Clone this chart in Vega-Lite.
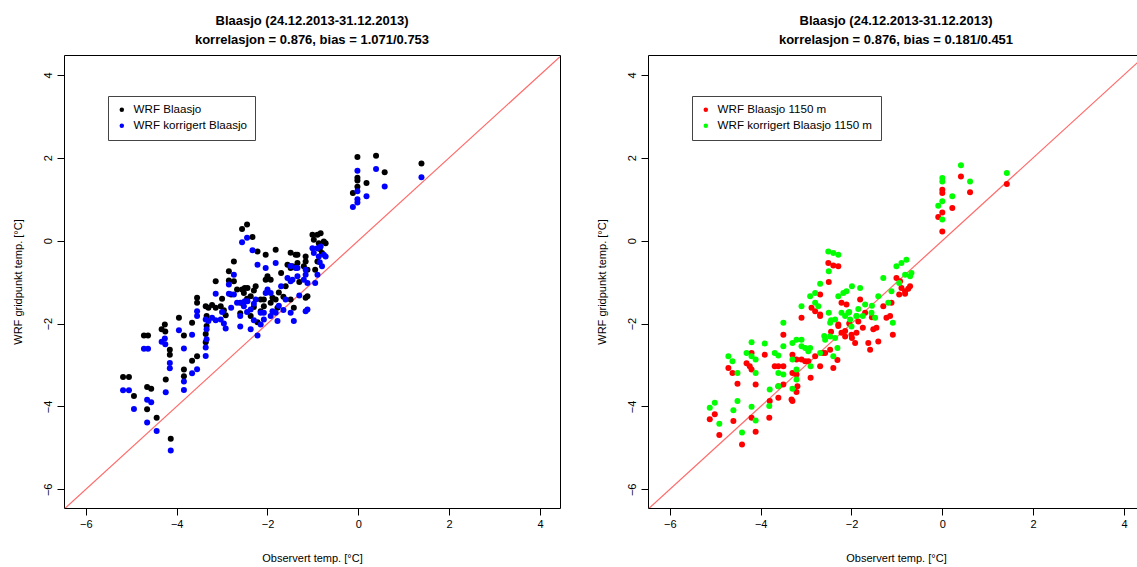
{
"$schema": "https://vega.github.io/schema/vega-lite/v6.json",
"background": "white",
"padding": {"left": 11, "top": 14, "right": 0, "bottom": 0},
"spacing": 34,
"config": {
  "font": "Liberation Sans",
  "view": {"stroke": "#000000", "strokeWidth": 1},
  "axis": {"grid": false, "domain": false, "tickColor": "#000000", "tickSize": 7, "labelFont": "Liberation Sans", "labelFontSize": 11, "labelColor": "#000000", "titleFont": "Liberation Sans", "titleFontSize": 11, "titleFontWeight": "normal", "titleColor": "#000000"},
  "axisX": {"labelPadding": 3, "titlePadding": 23, "labelFlush": false},
  "axisY": {"labelAngle": -90, "labelAlign": "center", "labelBaseline": "bottom", "labelPadding": 4, "titlePadding": 19},
  "legend": {"orient": "none", "legendX": 44, "legendY": 41, "strokeColor": "#444444", "fillColor": "white", "padding": 8, "symbolType": "circle", "symbolSize": 20, "symbolStrokeWidth": 0, "labelFont": "Liberation Sans", "labelFontSize": 11.6, "labelColor": "#000000", "rowPadding": 3, "labelOffset": 6, "cornerRadius": 0},
  "title": {"font": "Liberation Sans", "fontSize": 13, "fontWeight": "bold", "color": "#000000", "lineHeight": 19, "offset": 8, "anchor": "middle"}
},
"datasets": {
  "diag": [{"a": -6.48, "b": 4.44}],
  "left": [
{"series":"WRF Blaasjo","obs":-5.18,"wrf":-3.29},{"series":"WRF Blaasjo","obs":-5.05,"wrf":-3.29},{"series":"WRF Blaasjo","obs":-4.94,"wrf":-3.75},{"series":"WRF Blaasjo","obs":-4.72,"wrf":-2.29},{"series":"WRF Blaasjo","obs":-4.63,"wrf":-2.29},{"series":"WRF Blaasjo","obs":-4.65,"wrf":-3.53},{"series":"WRF Blaasjo","obs":-4.56,"wrf":-3.57},{"series":"WRF Blaasjo","obs":-4.65,"wrf":-4.07},{"series":"WRF Blaasjo","obs":-4.44,"wrf":-4.27},{"series":"WRF Blaasjo","obs":-4.33,"wrf":-2.14},{"series":"WRF Blaasjo","obs":-4.26,"wrf":-2.02},{"series":"WRF Blaasjo","obs":-4.25,"wrf":-2.19},{"series":"WRF Blaasjo","obs":-4.24,"wrf":-3.35},{"series":"WRF Blaasjo","obs":-4.15,"wrf":-2.63},{"series":"WRF Blaasjo","obs":-4.15,"wrf":-2.75},{"series":"WRF Blaasjo","obs":-4.13,"wrf":-4.78},{"series":"WRF Blaasjo","obs":-3.95,"wrf":-1.86},{"series":"WRF Blaasjo","obs":-3.84,"wrf":-2.29},{"series":"WRF Blaasjo","obs":-3.84,"wrf":-3.11},{"series":"WRF Blaasjo","obs":-3.84,"wrf":-3.27},{"series":"WRF Blaasjo","obs":-3.66,"wrf":-2.90},{"series":"WRF Blaasjo","obs":-3.55,"wrf":-2.79},{"series":"WRF Blaasjo","obs":-3.66,"wrf":-1.98},{"series":"WRF Blaasjo","obs":-3.55,"wrf":-1.38},{"series":"WRF Blaasjo","obs":-3.55,"wrf":-1.50},{"series":"WRF Blaasjo","obs":-3.36,"wrf":-1.58},{"series":"WRF Blaasjo","obs":-3.30,"wrf":-1.62},{"series":"WRF Blaasjo","obs":-3.22,"wrf":-1.55},{"series":"WRF Blaasjo","obs":-3.34,"wrf":-1.82},{"series":"WRF Blaasjo","obs":-3.34,"wrf":-2.06},{"series":"WRF Blaasjo","obs":-3.36,"wrf":-2.25},{"series":"WRF Blaasjo","obs":-3.36,"wrf":-2.45},{"series":"WRF Blaasjo","obs":-3.14,"wrf":-0.98},{"series":"WRF Blaasjo","obs":-3.14,"wrf":-1.62},{"series":"WRF Blaasjo","obs":-3.03,"wrf":-1.58},{"series":"WRF Blaasjo","obs":-2.96,"wrf":-1.68},{"series":"WRF Blaasjo","obs":-2.92,"wrf":-1.80},{"series":"WRF Blaasjo","obs":-2.85,"wrf":-0.74},{"series":"WRF Blaasjo","obs":-2.85,"wrf":-0.96},{"series":"WRF Blaasjo","obs":-2.74,"wrf":-0.50},{"series":"WRF Blaasjo","obs":-2.74,"wrf":-0.98},{"series":"WRF Blaasjo","obs":-2.67,"wrf":-1.18},{"series":"WRF Blaasjo","obs":-2.56,"wrf":0.28},{"series":"WRF Blaasjo","obs":-2.45,"wrf":0.39},{"series":"WRF Blaasjo","obs":-2.33,"wrf":0.09},{"series":"WRF Blaasjo","obs":-2.56,"wrf":-1.18},{"series":"WRF Blaasjo","obs":-2.50,"wrf":-1.14},{"series":"WRF Blaasjo","obs":-2.44,"wrf":-1.14},{"series":"WRF Blaasjo","obs":-2.22,"wrf":-0.26},{"series":"WRF Blaasjo","obs":-2.04,"wrf":-0.34},{"series":"WRF Blaasjo","obs":-1.82,"wrf":-0.22},{"series":"WRF Blaasjo","obs":-2.37,"wrf":-1.82},{"series":"WRF Blaasjo","obs":-2.22,"wrf":-1.97},{"series":"WRF Blaasjo","obs":-2.08,"wrf":-1.42},{"series":"WRF Blaasjo","obs":-2.04,"wrf":-0.94},{"series":"WRF Blaasjo","obs":-1.89,"wrf":-1.38},{"series":"WRF Blaasjo","obs":-1.82,"wrf":-1.42},{"series":"WRF Blaasjo","obs":-1.78,"wrf":-1.62},{"series":"WRF Blaasjo","obs":-1.56,"wrf":-0.58},{"series":"WRF Blaasjo","obs":-1.49,"wrf":-0.66},{"series":"WRF Blaasjo","obs":-1.34,"wrf":-0.34},{"series":"WRF Blaasjo","obs":-1.16,"wrf":-0.38},{"series":"WRF Blaasjo","obs":-1.16,"wrf":-0.50},{"series":"WRF Blaasjo","obs":-1.12,"wrf":-0.70},{"series":"WRF Blaasjo","obs":-1.01,"wrf":0.14},{"series":"WRF Blaasjo","obs":-0.90,"wrf":0.14},{"series":"WRF Blaasjo","obs":-0.83,"wrf":0.18},{"series":"WRF Blaasjo","obs":-0.76,"wrf":-0.02},{"series":"WRF Blaasjo","obs":-0.72,"wrf":-0.06},{"series":"WRF Blaasjo","obs":-0.98,"wrf":0.02},{"series":"WRF Blaasjo","obs":-0.87,"wrf":-0.06},{"series":"WRF Blaasjo","obs":-1.16,"wrf":-1.38},{"series":"WRF Blaasjo","obs":-1.42,"wrf":-1.62},{"series":"WRF Blaasjo","obs":-2.52,"wrf":-1.26},{"series":"WRF Blaasjo","obs":-2.37,"wrf":-1.34},{"series":"WRF Blaasjo","obs":-2.26,"wrf":-1.10},{"series":"WRF Blaasjo","obs":-2.15,"wrf":-1.42},{"series":"WRF Blaasjo","obs":-2.08,"wrf":-1.58},{"series":"WRF Blaasjo","obs":-1.93,"wrf":-1.50},{"series":"WRF Blaasjo","obs":-1.70,"wrf":-0.78},{"series":"WRF Blaasjo","obs":-1.49,"wrf":-1.42},{"series":"WRF Blaasjo","obs":-1.45,"wrf":-0.62},{"series":"WRF Blaasjo","obs":-1.34,"wrf":-0.54},{"series":"WRF Blaasjo","obs":-1.20,"wrf":-0.62},{"series":"WRF Blaasjo","obs":-1.12,"wrf":-1.34},{"series":"WRF Blaasjo","obs":-2.00,"wrf":-0.86},{"series":"WRF Blaasjo","obs":-1.93,"wrf":-0.94},{"series":"WRF Blaasjo","obs":-1.49,"wrf":-0.29},{"series":"WRF Blaasjo","obs":-1.38,"wrf":-0.34},{"series":"WRF Blaasjo","obs":-2.30,"wrf":-1.60},{"series":"WRF Blaasjo","obs":-2.15,"wrf":-1.70},{"series":"WRF Blaasjo","obs":-2.60,"wrf":-1.50},{"series":"WRF Blaasjo","obs":-2.80,"wrf":-1.30},{"series":"WRF Blaasjo","obs":-2.60,"wrf":-1.75},{"series":"WRF Blaasjo","obs":-3.00,"wrf":-1.40},{"series":"WRF Blaasjo","obs":-1.60,"wrf":-1.10},{"series":"WRF Blaasjo","obs":-1.30,"wrf":-1.00},{"series":"WRF Blaasjo","obs":-0.80,"wrf":-0.30},{"series":"WRF Blaasjo","obs":-0.90,"wrf":-0.50},{"series":"WRF Blaasjo","obs":-0.95,"wrf":-0.70},{"series":"WRF Blaasjo","obs":-2.45,"wrf":-1.40},{"series":"WRF Blaasjo","obs":-2.30,"wrf":-1.20},{"series":"WRF Blaasjo","obs":-1.75,"wrf":-1.25},{"series":"WRF Blaasjo","obs":-1.65,"wrf":-1.35},{"series":"WRF Blaasjo","obs":-0.85,"wrf":-0.20},{"series":"WRF Blaasjo","obs":-0.02,"wrf":2.02},{"series":"WRF Blaasjo","obs":0.39,"wrf":2.05},{"series":"WRF Blaasjo","obs":0.58,"wrf":1.65},{"series":"WRF Blaasjo","obs":0.18,"wrf":1.39},{"series":"WRF Blaasjo","obs":-0.02,"wrf":1.52},{"series":"WRF Blaasjo","obs":-0.02,"wrf":1.45},{"series":"WRF Blaasjo","obs":-0.12,"wrf":1.15},{"series":"WRF Blaasjo","obs":1.39,"wrf":1.86},{"series":"WRF Blaasjo","obs":-0.02,"wrf":1.30},
{"series":"WRF korrigert Blaasjo","obs":-5.18,"wrf":-3.61},{"series":"WRF korrigert Blaasjo","obs":-5.05,"wrf":-3.61},{"series":"WRF korrigert Blaasjo","obs":-4.94,"wrf":-4.06},{"series":"WRF korrigert Blaasjo","obs":-4.72,"wrf":-2.61},{"series":"WRF korrigert Blaasjo","obs":-4.63,"wrf":-2.61},{"series":"WRF korrigert Blaasjo","obs":-4.65,"wrf":-3.84},{"series":"WRF korrigert Blaasjo","obs":-4.56,"wrf":-3.90},{"series":"WRF korrigert Blaasjo","obs":-4.65,"wrf":-4.39},{"series":"WRF korrigert Blaasjo","obs":-4.44,"wrf":-4.59},{"series":"WRF korrigert Blaasjo","obs":-4.33,"wrf":-2.44},{"series":"WRF korrigert Blaasjo","obs":-4.26,"wrf":-2.36},{"series":"WRF korrigert Blaasjo","obs":-4.25,"wrf":-2.50},{"series":"WRF korrigert Blaasjo","obs":-4.24,"wrf":-3.66},{"series":"WRF korrigert Blaasjo","obs":-4.15,"wrf":-2.95},{"series":"WRF korrigert Blaasjo","obs":-4.15,"wrf":-3.08},{"series":"WRF korrigert Blaasjo","obs":-4.13,"wrf":-5.06},{"series":"WRF korrigert Blaasjo","obs":-3.95,"wrf":-2.16},{"series":"WRF korrigert Blaasjo","obs":-3.84,"wrf":-2.60},{"series":"WRF korrigert Blaasjo","obs":-3.84,"wrf":-3.40},{"series":"WRF korrigert Blaasjo","obs":-3.84,"wrf":-3.60},{"series":"WRF korrigert Blaasjo","obs":-3.66,"wrf":-3.20},{"series":"WRF korrigert Blaasjo","obs":-3.55,"wrf":-3.10},{"series":"WRF korrigert Blaasjo","obs":-3.66,"wrf":-2.27},{"series":"WRF korrigert Blaasjo","obs":-3.55,"wrf":-1.70},{"series":"WRF korrigert Blaasjo","obs":-3.55,"wrf":-1.82},{"series":"WRF korrigert Blaasjo","obs":-3.36,"wrf":-1.90},{"series":"WRF korrigert Blaasjo","obs":-3.30,"wrf":-1.94},{"series":"WRF korrigert Blaasjo","obs":-3.22,"wrf":-1.86},{"series":"WRF korrigert Blaasjo","obs":-3.34,"wrf":-2.14},{"series":"WRF korrigert Blaasjo","obs":-3.34,"wrf":-2.38},{"series":"WRF korrigert Blaasjo","obs":-3.36,"wrf":-2.58},{"series":"WRF korrigert Blaasjo","obs":-3.36,"wrf":-2.78},{"series":"WRF korrigert Blaasjo","obs":-3.14,"wrf":-1.28},{"series":"WRF korrigert Blaasjo","obs":-3.14,"wrf":-1.92},{"series":"WRF korrigert Blaasjo","obs":-3.03,"wrf":-1.90},{"series":"WRF korrigert Blaasjo","obs":-2.96,"wrf":-2.00},{"series":"WRF korrigert Blaasjo","obs":-2.92,"wrf":-2.12},{"series":"WRF korrigert Blaasjo","obs":-2.85,"wrf":-1.06},{"series":"WRF korrigert Blaasjo","obs":-2.85,"wrf":-1.28},{"series":"WRF korrigert Blaasjo","obs":-2.74,"wrf":-0.82},{"series":"WRF korrigert Blaasjo","obs":-2.74,"wrf":-1.30},{"series":"WRF korrigert Blaasjo","obs":-2.67,"wrf":-1.50},{"series":"WRF korrigert Blaasjo","obs":-2.56,"wrf":-0.04},{"series":"WRF korrigert Blaasjo","obs":-2.45,"wrf":0.07},{"series":"WRF korrigert Blaasjo","obs":-2.33,"wrf":-0.23},{"series":"WRF korrigert Blaasjo","obs":-2.56,"wrf":-1.50},{"series":"WRF korrigert Blaasjo","obs":-2.50,"wrf":-1.46},{"series":"WRF korrigert Blaasjo","obs":-2.44,"wrf":-1.46},{"series":"WRF korrigert Blaasjo","obs":-2.22,"wrf":-0.58},{"series":"WRF korrigert Blaasjo","obs":-2.04,"wrf":-0.66},{"series":"WRF korrigert Blaasjo","obs":-1.82,"wrf":-0.54},{"series":"WRF korrigert Blaasjo","obs":-2.37,"wrf":-2.14},{"series":"WRF korrigert Blaasjo","obs":-2.22,"wrf":-2.29},{"series":"WRF korrigert Blaasjo","obs":-2.08,"wrf":-1.74},{"series":"WRF korrigert Blaasjo","obs":-2.04,"wrf":-1.26},{"series":"WRF korrigert Blaasjo","obs":-1.89,"wrf":-1.70},{"series":"WRF korrigert Blaasjo","obs":-1.82,"wrf":-1.74},{"series":"WRF korrigert Blaasjo","obs":-1.78,"wrf":-1.94},{"series":"WRF korrigert Blaasjo","obs":-1.56,"wrf":-0.90},{"series":"WRF korrigert Blaasjo","obs":-1.49,"wrf":-0.98},{"series":"WRF korrigert Blaasjo","obs":-1.34,"wrf":-0.66},{"series":"WRF korrigert Blaasjo","obs":-1.16,"wrf":-0.70},{"series":"WRF korrigert Blaasjo","obs":-1.16,"wrf":-0.82},{"series":"WRF korrigert Blaasjo","obs":-1.12,"wrf":-1.02},{"series":"WRF korrigert Blaasjo","obs":-1.01,"wrf":-0.18},{"series":"WRF korrigert Blaasjo","obs":-0.90,"wrf":-0.18},{"series":"WRF korrigert Blaasjo","obs":-0.83,"wrf":-0.14},{"series":"WRF korrigert Blaasjo","obs":-0.76,"wrf":-0.34},{"series":"WRF korrigert Blaasjo","obs":-0.72,"wrf":-0.38},{"series":"WRF korrigert Blaasjo","obs":-0.98,"wrf":-0.30},{"series":"WRF korrigert Blaasjo","obs":-0.87,"wrf":-0.38},{"series":"WRF korrigert Blaasjo","obs":-1.16,"wrf":-1.70},{"series":"WRF korrigert Blaasjo","obs":-1.42,"wrf":-1.94},{"series":"WRF korrigert Blaasjo","obs":-2.52,"wrf":-1.58},{"series":"WRF korrigert Blaasjo","obs":-2.37,"wrf":-1.66},{"series":"WRF korrigert Blaasjo","obs":-2.26,"wrf":-1.42},{"series":"WRF korrigert Blaasjo","obs":-2.15,"wrf":-1.74},{"series":"WRF korrigert Blaasjo","obs":-2.08,"wrf":-1.90},{"series":"WRF korrigert Blaasjo","obs":-1.93,"wrf":-1.82},{"series":"WRF korrigert Blaasjo","obs":-1.70,"wrf":-1.10},{"series":"WRF korrigert Blaasjo","obs":-1.49,"wrf":-1.74},{"series":"WRF korrigert Blaasjo","obs":-1.45,"wrf":-0.94},{"series":"WRF korrigert Blaasjo","obs":-1.34,"wrf":-0.86},{"series":"WRF korrigert Blaasjo","obs":-1.20,"wrf":-0.94},{"series":"WRF korrigert Blaasjo","obs":-1.12,"wrf":-1.66},{"series":"WRF korrigert Blaasjo","obs":-2.00,"wrf":-1.18},{"series":"WRF korrigert Blaasjo","obs":-1.93,"wrf":-1.26},{"series":"WRF korrigert Blaasjo","obs":-1.49,"wrf":-0.61},{"series":"WRF korrigert Blaasjo","obs":-1.38,"wrf":-0.66},{"series":"WRF korrigert Blaasjo","obs":-2.30,"wrf":-1.92},{"series":"WRF korrigert Blaasjo","obs":-2.15,"wrf":-2.02},{"series":"WRF korrigert Blaasjo","obs":-2.60,"wrf":-1.82},{"series":"WRF korrigert Blaasjo","obs":-2.80,"wrf":-1.62},{"series":"WRF korrigert Blaasjo","obs":-2.60,"wrf":-2.07},{"series":"WRF korrigert Blaasjo","obs":-3.00,"wrf":-1.72},{"series":"WRF korrigert Blaasjo","obs":-1.60,"wrf":-1.42},{"series":"WRF korrigert Blaasjo","obs":-1.30,"wrf":-1.32},{"series":"WRF korrigert Blaasjo","obs":-0.80,"wrf":-0.62},{"series":"WRF korrigert Blaasjo","obs":-0.90,"wrf":-0.82},{"series":"WRF korrigert Blaasjo","obs":-0.95,"wrf":-1.02},{"series":"WRF korrigert Blaasjo","obs":-2.45,"wrf":-1.72},{"series":"WRF korrigert Blaasjo","obs":-2.30,"wrf":-1.52},{"series":"WRF korrigert Blaasjo","obs":-1.75,"wrf":-1.57},{"series":"WRF korrigert Blaasjo","obs":-1.65,"wrf":-1.67},{"series":"WRF korrigert Blaasjo","obs":-0.85,"wrf":-0.52},{"series":"WRF korrigert Blaasjo","obs":-0.02,"wrf":1.69},{"series":"WRF korrigert Blaasjo","obs":0.39,"wrf":1.73},{"series":"WRF korrigert Blaasjo","obs":0.58,"wrf":1.31},{"series":"WRF korrigert Blaasjo","obs":0.18,"wrf":1.07},{"series":"WRF korrigert Blaasjo","obs":-0.02,"wrf":1.19},{"series":"WRF korrigert Blaasjo","obs":-0.02,"wrf":0.92},{"series":"WRF korrigert Blaasjo","obs":-0.12,"wrf":0.81},{"series":"WRF korrigert Blaasjo","obs":1.39,"wrf":1.53},{"series":"WRF korrigert Blaasjo","obs":-0.02,"wrf":1.00}
  ],
  "right": [
{"series":"WRF Blaasjo 1150 m","obs":-5.12,"wrf":-4.31},{"series":"WRF Blaasjo 1150 m","obs":-5.01,"wrf":-4.19},{"series":"WRF Blaasjo 1150 m","obs":-4.91,"wrf":-4.69},{"series":"WRF Blaasjo 1150 m","obs":-4.71,"wrf":-3.07},{"series":"WRF Blaasjo 1150 m","obs":-4.62,"wrf":-3.19},{"series":"WRF Blaasjo 1150 m","obs":-4.60,"wrf":-4.35},{"series":"WRF Blaasjo 1150 m","obs":-4.51,"wrf":-3.45},{"series":"WRF Blaasjo 1150 m","obs":-4.41,"wrf":-4.92},{"series":"WRF Blaasjo 1150 m","obs":-4.31,"wrf":-2.96},{"series":"WRF Blaasjo 1150 m","obs":-4.24,"wrf":-3.03},{"series":"WRF Blaasjo 1150 m","obs":-4.20,"wrf":-3.11},{"series":"WRF Blaasjo 1150 m","obs":-4.20,"wrf":-4.27},{"series":"WRF Blaasjo 1150 m","obs":-4.11,"wrf":-4.61},{"series":"WRF Blaasjo 1150 m","obs":-4.11,"wrf":-3.47},{"series":"WRF Blaasjo 1150 m","obs":-4.20,"wrf":-2.71},{"series":"WRF Blaasjo 1150 m","obs":-3.91,"wrf":-2.75},{"series":"WRF Blaasjo 1150 m","obs":-3.81,"wrf":-4.27},{"series":"WRF Blaasjo 1150 m","obs":-3.80,"wrf":-3.87},{"series":"WRF Blaasjo 1150 m","obs":-3.69,"wrf":-3.03},{"series":"WRF Blaasjo 1150 m","obs":-3.61,"wrf":-3.03},{"series":"WRF Blaasjo 1150 m","obs":-3.50,"wrf":-3.03},{"series":"WRF Blaasjo 1150 m","obs":-3.50,"wrf":-2.27},{"series":"WRF Blaasjo 1150 m","obs":-3.61,"wrf":-3.51},{"series":"WRF Blaasjo 1150 m","obs":-3.50,"wrf":-3.47},{"series":"WRF Blaasjo 1150 m","obs":-3.61,"wrf":-3.79},{"series":"WRF Blaasjo 1150 m","obs":-3.30,"wrf":-2.75},{"series":"WRF Blaasjo 1150 m","obs":-3.21,"wrf":-2.87},{"series":"WRF Blaasjo 1150 m","obs":-3.30,"wrf":-3.19},{"series":"WRF Blaasjo 1150 m","obs":-3.21,"wrf":-3.23},{"series":"WRF Blaasjo 1150 m","obs":-3.19,"wrf":-3.51},{"series":"WRF Blaasjo 1150 m","obs":-3.30,"wrf":-3.87},{"series":"WRF Blaasjo 1150 m","obs":-3.21,"wrf":-3.65},{"series":"WRF Blaasjo 1150 m","obs":-3.10,"wrf":-1.86},{"series":"WRF Blaasjo 1150 m","obs":-3.10,"wrf":-2.87},{"series":"WRF Blaasjo 1150 m","obs":-3.02,"wrf":-2.91},{"series":"WRF Blaasjo 1150 m","obs":-2.95,"wrf":-2.91},{"series":"WRF Blaasjo 1150 m","obs":-2.90,"wrf":-3.31},{"series":"WRF Blaasjo 1150 m","obs":-2.80,"wrf":-2.79},{"series":"WRF Blaasjo 1150 m","obs":-2.69,"wrf":-1.30},{"series":"WRF Blaasjo 1150 m","obs":-2.88,"wrf":-1.62},{"series":"WRF Blaasjo 1150 m","obs":-2.80,"wrf":-1.70},{"series":"WRF Blaasjo 1150 m","obs":-2.69,"wrf":-1.82},{"series":"WRF Blaasjo 1150 m","obs":-2.69,"wrf":-3.03},{"series":"WRF Blaasjo 1150 m","obs":-2.51,"wrf":-0.54},{"series":"WRF Blaasjo 1150 m","obs":-2.40,"wrf":-0.60},{"series":"WRF Blaasjo 1150 m","obs":-2.29,"wrf":-0.62},{"series":"WRF Blaasjo 1150 m","obs":-2.50,"wrf":-1.00},{"series":"WRF Blaasjo 1150 m","obs":-2.58,"wrf":-2.71},{"series":"WRF Blaasjo 1150 m","obs":-2.47,"wrf":-2.63},{"series":"WRF Blaasjo 1150 m","obs":-2.40,"wrf":-3.07},{"series":"WRF Blaasjo 1150 m","obs":-2.31,"wrf":-2.88},{"series":"WRF Blaasjo 1150 m","obs":-2.29,"wrf":-2.06},{"series":"WRF Blaasjo 1150 m","obs":-2.22,"wrf":-2.22},{"series":"WRF Blaasjo 1150 m","obs":-2.14,"wrf":-2.31},{"series":"WRF Blaasjo 1150 m","obs":-2.22,"wrf":-1.50},{"series":"WRF Blaasjo 1150 m","obs":-2.11,"wrf":-1.54},{"series":"WRF Blaasjo 1150 m","obs":-1.99,"wrf":-2.35},{"series":"WRF Blaasjo 1150 m","obs":-1.92,"wrf":-2.47},{"series":"WRF Blaasjo 1150 m","obs":-1.89,"wrf":-2.22},{"series":"WRF Blaasjo 1150 m","obs":-1.81,"wrf":-1.42},{"series":"WRF Blaasjo 1150 m","obs":-1.70,"wrf":-1.74},{"series":"WRF Blaasjo 1150 m","obs":-1.63,"wrf":-2.47},{"series":"WRF Blaasjo 1150 m","obs":-1.59,"wrf":-2.63},{"series":"WRF Blaasjo 1150 m","obs":-1.52,"wrf":-2.14},{"series":"WRF Blaasjo 1150 m","obs":-1.45,"wrf":-2.10},{"series":"WRF Blaasjo 1150 m","obs":-1.41,"wrf":-2.43},{"series":"WRF Blaasjo 1150 m","obs":-1.30,"wrf":-1.58},{"series":"WRF Blaasjo 1150 m","obs":-1.23,"wrf":-1.86},{"series":"WRF Blaasjo 1150 m","obs":-1.15,"wrf":-1.82},{"series":"WRF Blaasjo 1150 m","obs":-1.09,"wrf":-2.27},{"series":"WRF Blaasjo 1150 m","obs":-1.12,"wrf":-1.50},{"series":"WRF Blaasjo 1150 m","obs":-1.01,"wrf":-0.90},{"series":"WRF Blaasjo 1150 m","obs":-0.93,"wrf":-0.98},{"series":"WRF Blaasjo 1150 m","obs":-0.90,"wrf":-1.14},{"series":"WRF Blaasjo 1150 m","obs":-0.82,"wrf":-1.22},{"series":"WRF Blaasjo 1150 m","obs":-0.71,"wrf":-1.10},{"series":"WRF Blaasjo 1150 m","obs":-0.82,"wrf":-1.28},{"series":"WRF Blaasjo 1150 m","obs":-0.75,"wrf":-1.16},{"series":"WRF Blaasjo 1150 m","obs":-2.00,"wrf":-2.27},{"series":"WRF Blaasjo 1150 m","obs":-2.29,"wrf":-2.02},{"series":"WRF Blaasjo 1150 m","obs":-2.14,"wrf":-2.18},{"series":"WRF Blaasjo 1150 m","obs":-2.63,"wrf":-2.71},{"series":"WRF Blaasjo 1150 m","obs":-3.32,"wrf":-3.83},{"series":"WRF Blaasjo 1150 m","obs":-2.69,"wrf":-1.78},{"series":"WRF Blaasjo 1150 m","obs":-2.05,"wrf":-2.00},{"series":"WRF Blaasjo 1150 m","obs":-1.85,"wrf":-1.95},{"series":"WRF Blaasjo 1150 m","obs":-1.75,"wrf":-2.10},{"series":"WRF Blaasjo 1150 m","obs":-1.55,"wrf":-1.85},{"series":"WRF Blaasjo 1150 m","obs":-2.45,"wrf":-2.20},{"series":"WRF Blaasjo 1150 m","obs":-0.95,"wrf":-1.30},{"series":"WRF Blaasjo 1150 m","obs":0.41,"wrf":1.55},{"series":"WRF Blaasjo 1150 m","obs":0.00,"wrf":1.23},{"series":"WRF Blaasjo 1150 m","obs":0.00,"wrf":1.15},{"series":"WRF Blaasjo 1150 m","obs":0.61,"wrf":1.17},{"series":"WRF Blaasjo 1150 m","obs":0.22,"wrf":0.79},{"series":"WRF Blaasjo 1150 m","obs":-0.09,"wrf":0.57},{"series":"WRF Blaasjo 1150 m","obs":0.00,"wrf":0.68},{"series":"WRF Blaasjo 1150 m","obs":0.00,"wrf":0.22},{"series":"WRF Blaasjo 1150 m","obs":1.42,"wrf":1.37},
{"series":"WRF korrigert Blaasjo 1150 m","obs":-5.12,"wrf":-4.03},{"series":"WRF korrigert Blaasjo 1150 m","obs":-5.01,"wrf":-3.91},{"series":"WRF korrigert Blaasjo 1150 m","obs":-4.91,"wrf":-4.42},{"series":"WRF korrigert Blaasjo 1150 m","obs":-4.71,"wrf":-2.79},{"series":"WRF korrigert Blaasjo 1150 m","obs":-4.62,"wrf":-2.91},{"series":"WRF korrigert Blaasjo 1150 m","obs":-4.60,"wrf":-4.09},{"series":"WRF korrigert Blaasjo 1150 m","obs":-4.51,"wrf":-3.19},{"series":"WRF korrigert Blaasjo 1150 m","obs":-4.51,"wrf":-3.87},{"series":"WRF korrigert Blaasjo 1150 m","obs":-4.41,"wrf":-4.63},{"series":"WRF korrigert Blaasjo 1150 m","obs":-4.31,"wrf":-2.71},{"series":"WRF korrigert Blaasjo 1150 m","obs":-4.20,"wrf":-2.79},{"series":"WRF korrigert Blaasjo 1150 m","obs":-4.11,"wrf":-2.87},{"series":"WRF korrigert Blaasjo 1150 m","obs":-4.20,"wrf":-4.01},{"series":"WRF korrigert Blaasjo 1150 m","obs":-4.20,"wrf":-2.45},{"series":"WRF korrigert Blaasjo 1150 m","obs":-4.11,"wrf":-4.34},{"series":"WRF korrigert Blaasjo 1150 m","obs":-4.11,"wrf":-3.19},{"series":"WRF korrigert Blaasjo 1150 m","obs":-3.91,"wrf":-2.48},{"series":"WRF korrigert Blaasjo 1150 m","obs":-3.81,"wrf":-3.99},{"series":"WRF korrigert Blaasjo 1150 m","obs":-3.80,"wrf":-3.59},{"series":"WRF korrigert Blaasjo 1150 m","obs":-3.69,"wrf":-2.71},{"series":"WRF korrigert Blaasjo 1150 m","obs":-3.61,"wrf":-2.77},{"series":"WRF korrigert Blaasjo 1150 m","obs":-3.50,"wrf":-2.55},{"series":"WRF korrigert Blaasjo 1150 m","obs":-3.50,"wrf":-1.98},{"series":"WRF korrigert Blaasjo 1150 m","obs":-3.61,"wrf":-3.19},{"series":"WRF korrigert Blaasjo 1150 m","obs":-3.50,"wrf":-3.23},{"series":"WRF korrigert Blaasjo 1150 m","obs":-3.61,"wrf":-3.51},{"series":"WRF korrigert Blaasjo 1150 m","obs":-3.30,"wrf":-2.47},{"series":"WRF korrigert Blaasjo 1150 m","obs":-3.21,"wrf":-2.39},{"series":"WRF korrigert Blaasjo 1150 m","obs":-3.10,"wrf":-2.39},{"series":"WRF korrigert Blaasjo 1150 m","obs":-3.30,"wrf":-2.87},{"series":"WRF korrigert Blaasjo 1150 m","obs":-3.21,"wrf":-3.11},{"series":"WRF korrigert Blaasjo 1150 m","obs":-3.30,"wrf":-3.57},{"series":"WRF korrigert Blaasjo 1150 m","obs":-3.21,"wrf":-3.35},{"series":"WRF korrigert Blaasjo 1150 m","obs":-3.10,"wrf":-1.58},{"series":"WRF korrigert Blaasjo 1150 m","obs":-3.10,"wrf":-2.55},{"series":"WRF korrigert Blaasjo 1150 m","obs":-3.02,"wrf":-2.59},{"series":"WRF korrigert Blaasjo 1150 m","obs":-2.91,"wrf":-2.59},{"series":"WRF korrigert Blaasjo 1150 m","obs":-2.95,"wrf":-2.67},{"series":"WRF korrigert Blaasjo 1150 m","obs":-2.90,"wrf":-3.03},{"series":"WRF korrigert Blaasjo 1150 m","obs":-2.80,"wrf":-1.26},{"series":"WRF korrigert Blaasjo 1150 m","obs":-2.91,"wrf":-1.34},{"series":"WRF korrigert Blaasjo 1150 m","obs":-2.69,"wrf":-1.04},{"series":"WRF korrigert Blaasjo 1150 m","obs":-2.80,"wrf":-1.50},{"series":"WRF korrigert Blaasjo 1150 m","obs":-2.73,"wrf":-1.58},{"series":"WRF korrigert Blaasjo 1150 m","obs":-2.69,"wrf":-2.71},{"series":"WRF korrigert Blaasjo 1150 m","obs":-2.51,"wrf":-0.26},{"series":"WRF korrigert Blaasjo 1150 m","obs":-2.40,"wrf":-0.30},{"series":"WRF korrigert Blaasjo 1150 m","obs":-2.29,"wrf":-0.34},{"series":"WRF korrigert Blaasjo 1150 m","obs":-2.50,"wrf":-0.74},{"series":"WRF korrigert Blaasjo 1150 m","obs":-2.58,"wrf":-2.39},{"series":"WRF korrigert Blaasjo 1150 m","obs":-2.47,"wrf":-2.31},{"series":"WRF korrigert Blaasjo 1150 m","obs":-2.40,"wrf":-2.79},{"series":"WRF korrigert Blaasjo 1150 m","obs":-2.31,"wrf":-2.59},{"series":"WRF korrigert Blaasjo 1150 m","obs":-2.29,"wrf":-1.34},{"series":"WRF korrigert Blaasjo 1150 m","obs":-2.18,"wrf":-1.26},{"series":"WRF korrigert Blaasjo 1150 m","obs":-2.11,"wrf":-1.22},{"series":"WRF korrigert Blaasjo 1150 m","obs":-1.99,"wrf":-1.10},{"series":"WRF korrigert Blaasjo 1150 m","obs":-1.81,"wrf":-1.14},{"series":"WRF korrigert Blaasjo 1150 m","obs":-2.07,"wrf":-1.74},{"series":"WRF korrigert Blaasjo 1150 m","obs":-1.89,"wrf":-1.82},{"series":"WRF korrigert Blaasjo 1150 m","obs":-2.50,"wrf":-1.74},{"series":"WRF korrigert Blaasjo 1150 m","obs":-2.47,"wrf":-1.98},{"series":"WRF korrigert Blaasjo 1150 m","obs":-1.70,"wrf":-1.54},{"series":"WRF korrigert Blaasjo 1150 m","obs":-1.56,"wrf":-1.74},{"series":"WRF korrigert Blaasjo 1150 m","obs":-1.48,"wrf":-1.86},{"series":"WRF korrigert Blaasjo 1150 m","obs":-1.41,"wrf":-1.34},{"series":"WRF korrigert Blaasjo 1150 m","obs":-1.30,"wrf":-0.90},{"series":"WRF korrigert Blaasjo 1150 m","obs":-1.19,"wrf":-1.50},{"series":"WRF korrigert Blaasjo 1150 m","obs":-1.12,"wrf":-1.22},{"series":"WRF korrigert Blaasjo 1150 m","obs":-1.09,"wrf":-1.98},{"series":"WRF korrigert Blaasjo 1150 m","obs":-1.01,"wrf":-0.62},{"series":"WRF korrigert Blaasjo 1150 m","obs":-0.90,"wrf":-0.54},{"series":"WRF korrigert Blaasjo 1150 m","obs":-0.79,"wrf":-0.46},{"series":"WRF korrigert Blaasjo 1150 m","obs":-0.82,"wrf":-0.82},{"series":"WRF korrigert Blaasjo 1150 m","obs":-0.71,"wrf":-0.86},{"series":"WRF korrigert Blaasjo 1150 m","obs":-0.68,"wrf":-0.78},{"series":"WRF korrigert Blaasjo 1150 m","obs":-2.36,"wrf":-1.90},{"series":"WRF korrigert Blaasjo 1150 m","obs":-2.22,"wrf":-1.74},{"series":"WRF korrigert Blaasjo 1150 m","obs":-2.14,"wrf":-1.82},{"series":"WRF korrigert Blaasjo 1150 m","obs":-2.03,"wrf":-1.90},{"series":"WRF korrigert Blaasjo 1150 m","obs":-2.00,"wrf":-2.07},{"series":"WRF korrigert Blaasjo 1150 m","obs":-1.89,"wrf":-1.82},{"series":"WRF korrigert Blaasjo 1150 m","obs":-2.60,"wrf":-2.30},{"series":"WRF korrigert Blaasjo 1150 m","obs":-2.36,"wrf":-2.35},{"series":"WRF korrigert Blaasjo 1150 m","obs":-2.05,"wrf":-1.72},{"series":"WRF korrigert Blaasjo 1150 m","obs":-1.85,"wrf":-1.65},{"series":"WRF korrigert Blaasjo 1150 m","obs":-1.75,"wrf":-1.82},{"series":"WRF korrigert Blaasjo 1150 m","obs":-1.55,"wrf":-1.57},{"series":"WRF korrigert Blaasjo 1150 m","obs":-2.45,"wrf":-1.92},{"series":"WRF korrigert Blaasjo 1150 m","obs":-0.95,"wrf":-1.02},{"series":"WRF korrigert Blaasjo 1150 m","obs":0.41,"wrf":1.82},{"series":"WRF korrigert Blaasjo 1150 m","obs":0.00,"wrf":1.51},{"series":"WRF korrigert Blaasjo 1150 m","obs":0.00,"wrf":1.43},{"series":"WRF korrigert Blaasjo 1150 m","obs":0.61,"wrf":1.43},{"series":"WRF korrigert Blaasjo 1150 m","obs":0.22,"wrf":1.07},{"series":"WRF korrigert Blaasjo 1150 m","obs":-0.09,"wrf":0.84},{"series":"WRF korrigert Blaasjo 1150 m","obs":0.00,"wrf":0.95},{"series":"WRF korrigert Blaasjo 1150 m","obs":0.00,"wrf":0.51},{"series":"WRF korrigert Blaasjo 1150 m","obs":1.42,"wrf":1.63}
  ]
},
"resolve": {"scale": {"color": "independent"}, "legend": {"color": "independent"}},
"hconcat": [
  {
    "width": 496, "height": 453,
    "title": {"text": ["Blaasjo (24.12.2013-31.12.2013)", "korrelasjon = 0.876, bias = 1.071/0.753"]},
    "layer": [
      {"mark": {"type": "rule", "color": "#BEBEBE", "strokeWidth": 1}, "encoding": {"x": {"datum": 0, "type": "quantitative"}}},
      {"mark": {"type": "rule", "color": "#BEBEBE", "strokeWidth": 1}, "encoding": {"y": {"datum": 0, "type": "quantitative"}}},
      {"data": {"name": "diag"}, "mark": {"type": "rule", "color": "#FF6A6A", "strokeWidth": 1.2, "clip": true},
       "encoding": {"x": {"field": "a", "type": "quantitative"}, "y": {"field": "a", "type": "quantitative"}, "x2": {"field": "b"}, "y2": {"field": "b"}}},
      {"data": {"name": "left"}, "mark": {"type": "point", "filled": true, "size": 36, "opacity": 1},
       "encoding": {
         "x": {"field": "obs", "type": "quantitative", "scale": {"domain": [-6.48, 4.44], "nice": false, "zero": false}, "axis": {"values": [-6, -4, -2, 0, 2, 4], "title": "Observert temp. [°C]"}},
         "y": {"field": "wrf", "type": "quantitative", "scale": {"domain": [-6.45, 4.48], "nice": false, "zero": false}, "axis": {"values": [-6, -4, -2, 0, 2, 4], "title": "WRF gridpunkt temp. [°C]"}},
         "color": {"field": "series", "type": "nominal", "scale": {"domain": ["WRF Blaasjo", "WRF korrigert Blaasjo"], "range": ["#000000", "#0000FF"]}, "legend": {"title": null}}
       }}
    ]
  },
  {
    "width": 496, "height": 453,
    "title": {"text": ["Blaasjo (24.12.2013-31.12.2013)", "korrelasjon = 0.876, bias = 0.181/0.451"]},
    "layer": [
      {"mark": {"type": "rule", "color": "#BEBEBE", "strokeWidth": 1}, "encoding": {"x": {"datum": 0, "type": "quantitative"}}},
      {"mark": {"type": "rule", "color": "#BEBEBE", "strokeWidth": 1}, "encoding": {"y": {"datum": 0, "type": "quantitative"}}},
      {"data": {"name": "diag"}, "mark": {"type": "rule", "color": "#FF6A6A", "strokeWidth": 1.2, "clip": true},
       "encoding": {"x": {"field": "a", "type": "quantitative"}, "y": {"field": "a", "type": "quantitative"}, "x2": {"field": "b"}, "y2": {"field": "b"}}},
      {"data": {"name": "right"}, "mark": {"type": "point", "filled": true, "size": 36, "opacity": 1},
       "encoding": {
         "x": {"field": "obs", "type": "quantitative", "scale": {"domain": [-6.48, 4.44], "nice": false, "zero": false}, "axis": {"values": [-6, -4, -2, 0, 2, 4], "title": "Observert temp. [°C]"}},
         "y": {"field": "wrf", "type": "quantitative", "scale": {"domain": [-6.45, 4.48], "nice": false, "zero": false}, "axis": {"values": [-6, -4, -2, 0, 2, 4], "title": "WRF gridpunkt temp. [°C]"}},
         "color": {"field": "series", "type": "nominal", "scale": {"domain": ["WRF Blaasjo 1150 m", "WRF korrigert Blaasjo 1150 m"], "range": ["#FF0000", "#00FF00"]}, "legend": {"title": null}}
       }}
    ]
  }
]
}
